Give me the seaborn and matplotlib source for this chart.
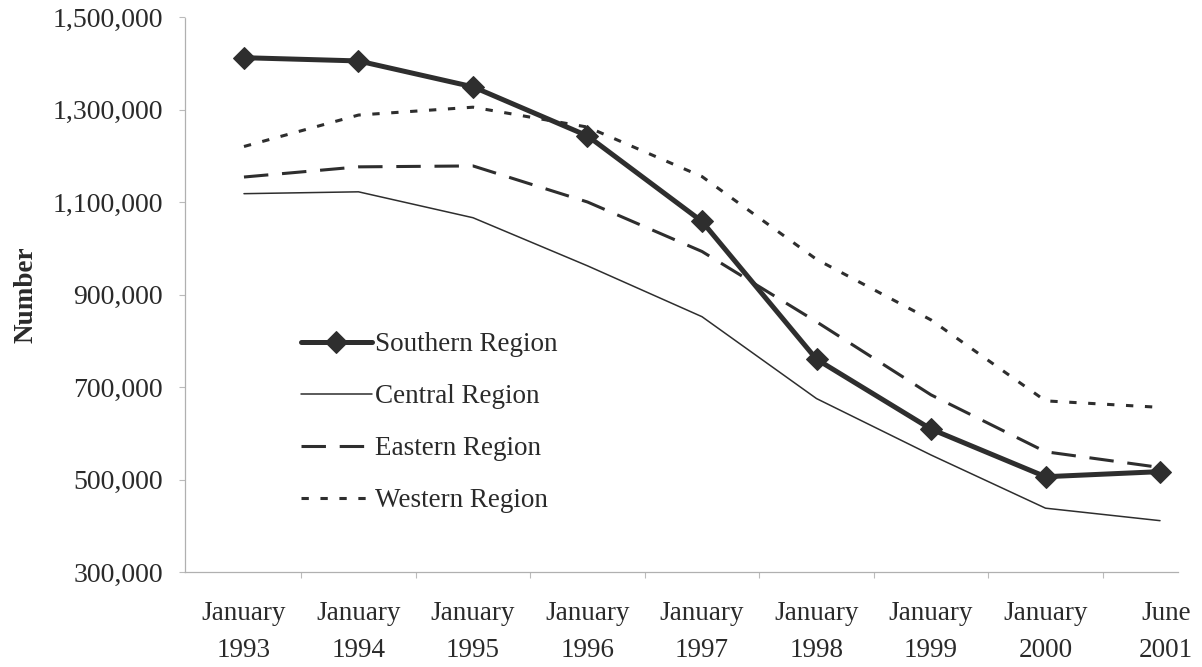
import numpy as np
import pandas as pd
import matplotlib
matplotlib.use("Agg")
import matplotlib.pyplot as plt
import matplotlib.transforms as mtransforms
import seaborn as sns

categories = ["January\n1993", "January\n1994", "January\n1995", "January\n1996",
              "January\n1997", "January\n1998", "January\n1999", "January\n2000",
              "June\n2001"]
southern = [1412000, 1405000, 1349000, 1243000, 1058000, 760000, 609000, 506000, 517000]
central = [1118000, 1122000, 1066000, 962000, 852000, 675000, 553000, 438000, 411000]
eastern = [1154000, 1176000, 1178000, 1100000, 993000, 841000, 683000, 560000, 526000]
western = [1220000, 1288000, 1305000, 1262000, 1155000, 976000, 845000, 670000, 656000]
yticks = [300000, 500000, 700000, 900000, 1100000, 1300000, 1500000]

sns.set_theme(style="white")
plt.rcParams['font.family'] = ['Liberation Serif', 'DejaVu Serif']

fig = plt.figure(figsize=(12.02, 6.67), dpi=100)
ax = fig.add_axes([185/1202, (667-572)/667, (1178-185)/1202, (572-17)/667])

x = np.arange(len(categories))
col = "#2e2e2e"
tcol = "#2a2a2a"

sns.lineplot(x=x, y=southern, ax=ax, color=col, lw=3.6, marker="D", markersize=11,
             markeredgecolor=col, markerfacecolor=col, label="Southern Region")
sns.lineplot(x=x, y=central, ax=ax, color=col, lw=1.1, label="Central Region")
sns.lineplot(x=x, y=eastern, ax=ax, color=col, lw=2.2, label="Eastern Region")
sns.lineplot(x=x, y=western, ax=ax, color=col, lw=2.2, label="Western Region")
lines = ax.get_lines()
lines[2].set_dashes([8, 4.5])
lines[3].set_dashes([2.4, 3.8])

ax.set_xlim(-0.515, 8.157)
ax.set_ylim(300000, 1500000)
ax.set_yticks(yticks)
ax.set_yticklabels([f"{v:,}" for v in yticks], fontsize=20, color=tcol)
ax.set_xticks(x)
ax.set_xticklabels(categories, fontsize=19.5, color=tcol, linespacing=1.6)
ax.set_xticks(np.arange(0.5, 8, 1), minor=True)
ax.tick_params(axis="x", which="major", length=0, pad=21)
ax.tick_params(axis="x", which="minor", length=4, color="#bbbbbb", width=0.8, direction="out", bottom=True)
ax.tick_params(axis="y", length=4, color="#bbbbbb", width=0.8, direction="out", left=True, pad=12)

last = ax.get_xticklabels()[-1]
last.set_transform(last.get_transform() + mtransforms.ScaledTranslation(6/100, 0, fig.dpi_scale_trans))

for s in ["top", "right"]:
    ax.spines[s].set_visible(False)
for s in ["left", "bottom"]:
    ax.spines[s].set_color("#b0b0b0")
    ax.spines[s].set_linewidth(0.9)
    ax.spines[s].set_linestyle((0, (1, 1)))

ax.set_xlabel("")
ax.set_ylabel("Number", fontsize=19.5, fontweight="bold", color=tcol, labelpad=10)

leg = ax.legend(loc="upper left", bbox_to_anchor=(0.117, 0.432), frameon=False,
                fontsize=19.5, handlelength=2.6, handletextpad=0.12, labelspacing=1.0,
                borderaxespad=0, borderpad=0)
for t in leg.get_texts():
    t.set_color(tcol)

fig.savefig("out.png", dpi=100)
